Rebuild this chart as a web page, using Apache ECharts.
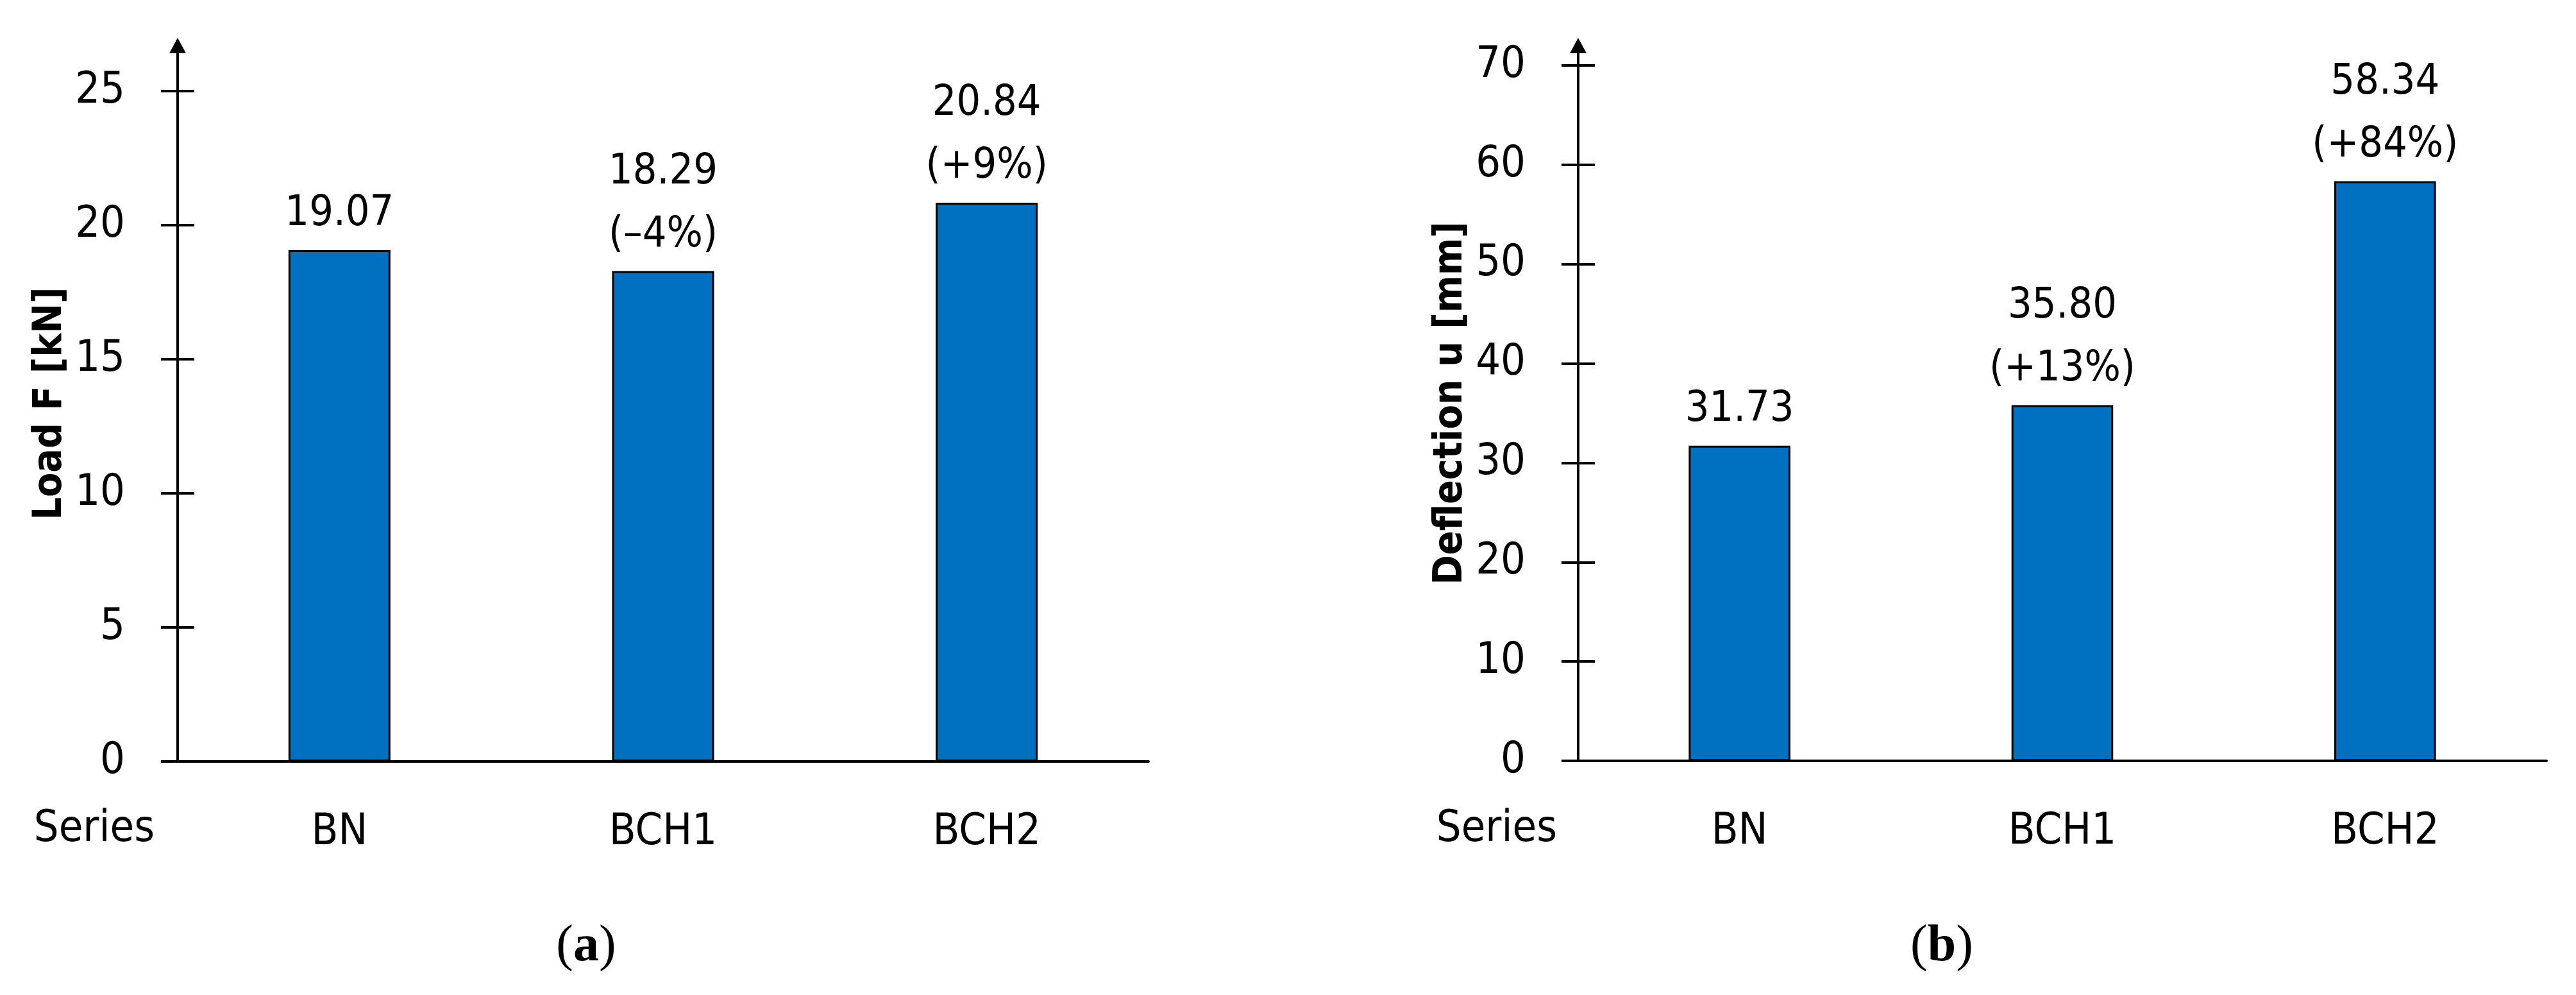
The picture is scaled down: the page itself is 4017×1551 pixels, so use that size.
<!DOCTYPE html>
<html>
<head>
<meta charset="utf-8">
<title>Load and deflection by series</title>
<script src="https://cdn.jsdelivr.net/npm/echarts@6/dist/echarts.min.js"></script>
<style>
  html, body { margin: 0; padding: 0; background: #fff; }
  #chart { width: 4017px; height: 1551px; }
</style>
</head>
<body>
<div id="chart"></div>
<script>
// data
const categories = ["BN", "BCH1", "BCH2"];
const loadValues = [19.07, 18.29, 20.84];
const loadChange = ["", "(–4%)", "(+9%)"];
const deflValues = [31.73, 35.80, 58.34];
const deflChange = ["", "(+13%)", "(+84%)"];
const loadTicks = [0, 5, 10, 15, 20, 25];
const deflTicks = [0, 10, 20, 30, 40, 50, 60, 70];

const numFont = '"DejaVu Sans Condensed", "DejaVu Sans", sans-serif';
const serifFont = '"Liberation Serif", serif';
const barColor = "#0070c0";

function barLabel(changes) {
  return {
    show: true,
    position: "top",
    distance: 7,
    color: "#000",
    fontFamily: numFont,
    fontSize: 66,
    lineHeight: 98,
    formatter: function (p) {
      let txt = p.value.toFixed(2);
      if (changes[p.dataIndex]) {
        txt += "\n" + changes[p.dataIndex];
      }
      return txt;
    }
  };
}

// main y axis: line with arrow, labels and outer half of the ticks
function mainY(grid, max, step, ticks, name) {
  return {
    type: "value",
    gridIndex: grid,
    min: 0,
    max: max,
    interval: step,
    name: name,
    nameLocation: "middle",
    nameGap: 167,
    nameMoveOverlap: false,
    nameTextStyle: {
      color: "#000",
      fontFamily: numFont,
      fontWeight: "bold",
      fontSize: 62
    },
    axisLine: {
      show: true,
      symbol: ["none", "triangle"],
      symbolSize: [26, 24],
      lineStyle: { color: "#000", width: 4 }
    },
    axisTick: {
      show: true,
      customValues: ticks,
      length: 26,
      lineStyle: { color: "#000", width: 4 }
    },
    axisLabel: {
      margin: 82,
      color: "#000",
      fontFamily: numFont,
      fontSize: 68,
      showMaxLabel: false,
      formatter: function (v) {
        return ticks.indexOf(v) >= 0 ? String(v) : "";
      }
    },
    splitLine: { show: false }
  };
}

// second axis on the same spot, only for the inner half of the ticks
function innerY(grid, max, ticks) {
  return {
    type: "value",
    gridIndex: grid,
    position: "left",
    min: 0,
    max: max,
    axisLine: { show: false },
    axisTick: {
      show: true,
      inside: true,
      customValues: ticks,
      length: 26,
      lineStyle: { color: "#000", width: 4 }
    },
    axisLabel: { show: false },
    splitLine: { show: false }
  };
}

function catX(grid) {
  return {
    type: "category",
    gridIndex: grid,
    data: categories,
    axisLine: { lineStyle: { color: "#000", width: 4 } },
    axisTick: { show: false },
    axisLabel: {
      margin: 77,
      color: "#000",
      fontFamily: numFont,
      fontSize: 68
    }
  };
}

function plainText(x, y, text, align) {
  return {
    type: "text",
    x: x,
    y: y,
    style: {
      text: text,
      align: align,
      verticalAlign: "middle",
      fontFamily: numFont,
      fontSize: 68,
      fill: "#000"
    }
  };
}

function caption(x, y, letter) {
  return {
    type: "text",
    x: x,
    y: y,
    style: {
      text: "{p|(}{b|" + letter + "}{p|)}",
      align: "center",
      verticalAlign: "middle",
      rich: {
        p: { fontFamily: serifFont, fontSize: 80, fill: "#000" },
        b: { fontFamily: serifFont, fontSize: 80, fontWeight: "bold", fill: "#000" }
      }
    }
  };
}

const eChart = echarts.init(document.getElementById("chart"), null, { renderer: "canvas" });

const option = {
  backgroundColor: "#fff",
  animation: false,
  grid: [
    { left: 277, right: 2226, top: 71, bottom: 364 },
    { left: 2461, right: 46, top: 71, bottom: 365 }
  ],
  xAxis: [catX(0), catX(1)],
  yAxis: [
    mainY(0, 26.7, 5, loadTicks, "Load F [kN]"),
    innerY(0, 26.7, loadTicks),
    mainY(1, 72, 10, deflTicks, "Deflection u [mm]"),
    innerY(1, 72, deflTicks)
  ],
  series: [
    {
      type: "bar",
      xAxisIndex: 0,
      yAxisIndex: 0,
      data: loadValues,
      barWidth: "31.5%",
      itemStyle: { color: barColor, borderColor: "#000", borderWidth: 3 },
      label: barLabel(loadChange)
    },
    {
      type: "bar",
      xAxisIndex: 1,
      yAxisIndex: 2,
      data: deflValues,
      barWidth: "31.5%",
      itemStyle: { color: barColor, borderColor: "#000", borderWidth: 3 },
      label: barLabel(deflChange)
    }
  ],
  graphic: [
    plainText(241, 1293, "Series", "right"),
    plainText(2428, 1293, "Series", "right"),
    caption(914, 1476, "a"),
    caption(3028, 1476, "b")
  ]
};

eChart.setOption(option, true);
window.addEventListener("resize", () => {
  eChart.resize();
});
</script>
</body>
</html>
